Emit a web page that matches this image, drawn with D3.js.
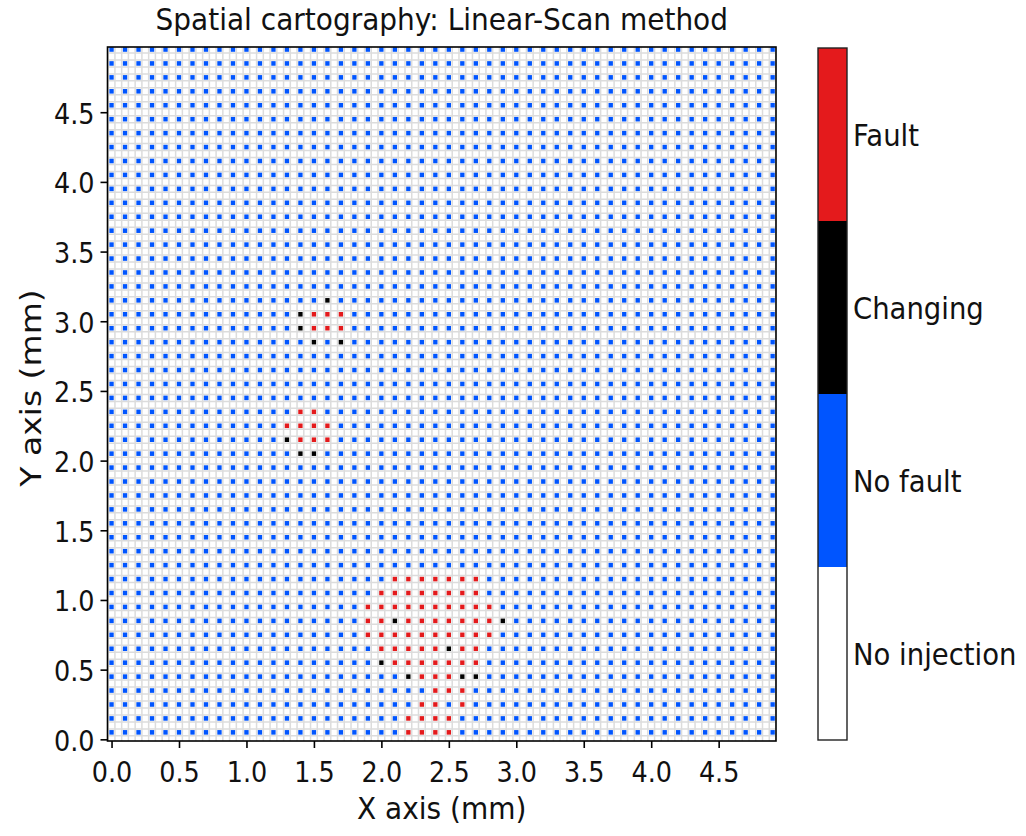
<!DOCTYPE html>
<html>
<head>
<meta charset="utf-8">
<script src="https://cdn.jsdelivr.net/npm/d3@7"></script>
<style>
  html, body { margin: 0; padding: 0; background: #fff; }
  svg { display: block; font-family: "DejaVu Sans", sans-serif; }
</style>
</head>
<body>
<svg id="chart" width="1026" height="836"></svg>
<script>
// ---------------- data ----------------
const title = "Spatial cartography: Linear-Scan method";
const xLabel = "X axis (mm)";
const yLabel = "Y axis (mm)";
const xTicks = [0.0, 0.5, 1.0, 1.5, 2.0, 2.5, 3.0, 3.5, 4.0, 4.5];
const yTicks = [0.0, 0.5, 1.0, 1.5, 2.0, 2.5, 3.0, 3.5, 4.0, 4.5];
const categories = ["No injection", "No fault", "Changing", "Fault"];
const categoryColors = ["#ffffff", "#0055ff", "#000000", "#e41a1c"];

// injection positions (mm)
const xPositions = d3.range(50).map(i => +(i * 0.1).toFixed(2));          // 0.0 .. 4.9
const yPositions = d3.range(50).map(j => +(0.05 + j * 0.1).toFixed(2));   // 0.05 .. 4.95
// fine (no-injection) cells between injections, step 0.05 mm
const xFine = d3.range(99).map(i => +(i * 0.05).toFixed(3));
const yFine = d3.range(100).map(j => +(j * 0.05).toFixed(3));

// points with a fault, [x, y] in mm
const faultPoints = [
  // upper cluster
  [1.5,3.05],[1.6,3.05],[1.7,3.05],
  [1.5,2.95],[1.6,2.95],[1.7,2.95],
  // middle cluster
  [1.4,2.35],[1.5,2.35],
  [1.3,2.25],[1.4,2.25],[1.5,2.25],[1.6,2.25],
  [1.4,2.15],[1.5,2.15],[1.6,2.15],
  // lower cluster
  [2.1,1.15],[2.2,1.15],[2.3,1.15],[2.4,1.15],[2.5,1.15],[2.6,1.15],[2.7,1.15],
  [2.0,1.05],[2.1,1.05],[2.2,1.05],[2.3,1.05],[2.4,1.05],[2.5,1.05],[2.6,1.05],[2.7,1.05],
  [1.9,0.95],[2.0,0.95],[2.1,0.95],[2.2,0.95],[2.3,0.95],[2.4,0.95],[2.5,0.95],[2.6,0.95],[2.7,0.95],[2.8,0.95],
  [1.9,0.85],[2.0,0.85],[2.2,0.85],[2.3,0.85],[2.4,0.85],[2.5,0.85],[2.6,0.85],[2.7,0.85],[2.8,0.85],
  [1.9,0.75],[2.0,0.75],[2.1,0.75],[2.2,0.75],[2.3,0.75],[2.4,0.75],[2.5,0.75],[2.6,0.75],[2.7,0.75],[2.8,0.75],
  [2.0,0.65],[2.1,0.65],[2.2,0.65],[2.3,0.65],[2.4,0.65],[2.6,0.65],[2.7,0.65],
  [2.1,0.55],[2.2,0.55],[2.3,0.55],[2.4,0.55],[2.5,0.55],[2.6,0.55],[2.7,0.55],
  [2.3,0.45],[2.4,0.45],[2.5,0.45],
  [2.4,0.35],[2.5,0.35],[2.6,0.35],
  [2.3,0.25],[2.4,0.25],[2.6,0.25],
  [2.2,0.15],[2.3,0.15],[2.4,0.15],[2.5,0.15],
  [2.2,0.05],[2.3,0.05],[2.4,0.05],[2.5,0.05]
];
// points whose result was changing, [x, y] in mm
const changingPoints = [
  [1.6,3.15],[1.4,3.05],[1.4,2.95],[1.5,2.85],[1.7,2.85],
  [1.3,2.15],[1.4,2.05],[1.5,2.05],
  [2.1,0.85],[2.9,0.85],[2.5,0.65],[2.0,0.55],
  [2.2,0.45],[2.6,0.45],[2.7,0.45]
];

// ---------------- build ----------------
const key = (px, py) => px.toFixed(2) + "_" + py.toFixed(2);
const status = new Map();
faultPoints.forEach(([px, py]) => status.set(key(px, py), "Fault"));
changingPoints.forEach(([px, py]) => status.set(key(px, py), "Changing"));
const cells = [];
yPositions.forEach(py => xPositions.forEach(px => {
  cells.push({ x: px, y: py, cat: status.get(key(px, py)) || "No fault" });
}));

const svg = d3.select("#chart");
const pL = 107.5, pR = 776, pT = 47, pB = 741;
const x = d3.scaleLinear().domain([-0.03, 4.925]).range([pL, pR]);
const y = d3.scaleLinear().domain([-0.012, 4.968]).range([pB, pT]);
const color = d3.scaleOrdinal().domain(categories).range(categoryColors);
const SY = 1.1; // vertical stretch of text

function label(g, tx, ty, str, size, anchor, extra) {
  return g.append("text")
    .attr("transform", `translate(${tx},${ty}) ${extra || `scale(1,${SY})`}`)
    .attr("text-anchor", anchor || "middle")
    .style("font-size", size + "px")
    .attr("fill", "#111")
    .text(str);
}

svg.append("defs").append("clipPath").attr("id", "clip")
  .append("rect").attr("x", pL).attr("y", pT)
  .attr("width", pR - pL).attr("height", pB - pT);

const plot = svg.append("g").attr("clip-path", "url(#clip)");
plot.append("rect").attr("x", pL).attr("y", pT)
  .attr("width", pR - pL).attr("height", pB - pT).attr("fill", "#fff");

const cw = x(0.05) - x(0);
const ch = y(0) - y(0.05);

// fine grid (no injection cells with grey outlines)
plot.append("g").selectAll("line").data(xFine.concat([4.95])).join("line")
  .attr("x1", d => x(d - 0.025)).attr("x2", d => x(d - 0.025))
  .attr("y1", pT).attr("y2", pB)
  .attr("stroke", "#dcdcdc").attr("stroke-width", 1.5);
plot.append("g").selectAll("line").data(yFine.concat([5.0])).join("line")
  .attr("y1", d => y(d - 0.025)).attr("y2", d => y(d - 0.025))
  .attr("x1", pL).attr("x2", pR)
  .attr("stroke", "#dcdcdc").attr("stroke-width", 1.5);

// injection cells
plot.append("g").selectAll("rect").data(cells).join("rect")
  .attr("x", d => x(d.x) - cw / 2 + 1.2)
  .attr("y", d => y(d.y) - ch / 2 + 1.2)
  .attr("width", cw - 2.4)
  .attr("height", ch - 2.4)
  .attr("fill", d => color(d.cat));

// frame
svg.append("rect").attr("x", pL).attr("y", pT)
  .attr("width", pR - pL).attr("height", pB - pT)
  .attr("fill", "none").attr("stroke", "#000").attr("stroke-width", 1.6);

// axes
const xAxis = svg.append("g").attr("transform", `translate(0,${pB})`)
  .call(d3.axisBottom(x).tickValues(xTicks).tickFormat(d3.format(".1f")).tickSize(7));
const yAxis = svg.append("g").attr("transform", `translate(${pL},0)`)
  .call(d3.axisLeft(y).tickValues(yTicks).tickFormat(d3.format(".1f")).tickSize(7));
[xAxis, yAxis].forEach(g => {
  g.select(".domain").remove();
  g.selectAll(".tick line").attr("stroke", "#000").attr("stroke-width", 1.6);
  g.selectAll(".tick text").attr("fill", "#111").style("font-size", "25.5px")
    .style("font-family", "DejaVu Sans, sans-serif")
    .attr("x", 0).attr("y", 0).attr("dy", 0);
});
xAxis.selectAll(".tick text").attr("transform", `translate(0,40.5) scale(1,${SY})`);
yAxis.selectAll(".tick text").attr("transform", `translate(-13,11) scale(1,${SY})`);

// labels
label(svg, (pL + pR) / 2, 30, title, 28);
label(svg, (pL + pR) / 2, 819, xLabel, 28);
label(svg, 41, 388, yLabel, 28, "middle", `rotate(-90) scale(1.18,1)`);

// colorbar
const cbX = 818, cbW = 29;
const cb = d3.scaleBand().domain(categories.slice().reverse()).range([48, 740]);
const cbg = svg.append("g");
cbg.selectAll("rect").data(categories).join("rect")
  .attr("x", cbX).attr("y", d => cb(d)).attr("width", cbW).attr("height", cb.bandwidth())
  .attr("fill", d => color(d));
cbg.append("rect").attr("x", cbX).attr("y", 48).attr("width", cbW).attr("height", 692)
  .attr("fill", "none").attr("stroke", "#222").attr("stroke-width", 1.4);
categories.forEach(c => label(cbg, 853, cb(c) + cb.bandwidth() / 2 + 11, c, 27.5, "start"));
</script>
</body>
</html>
